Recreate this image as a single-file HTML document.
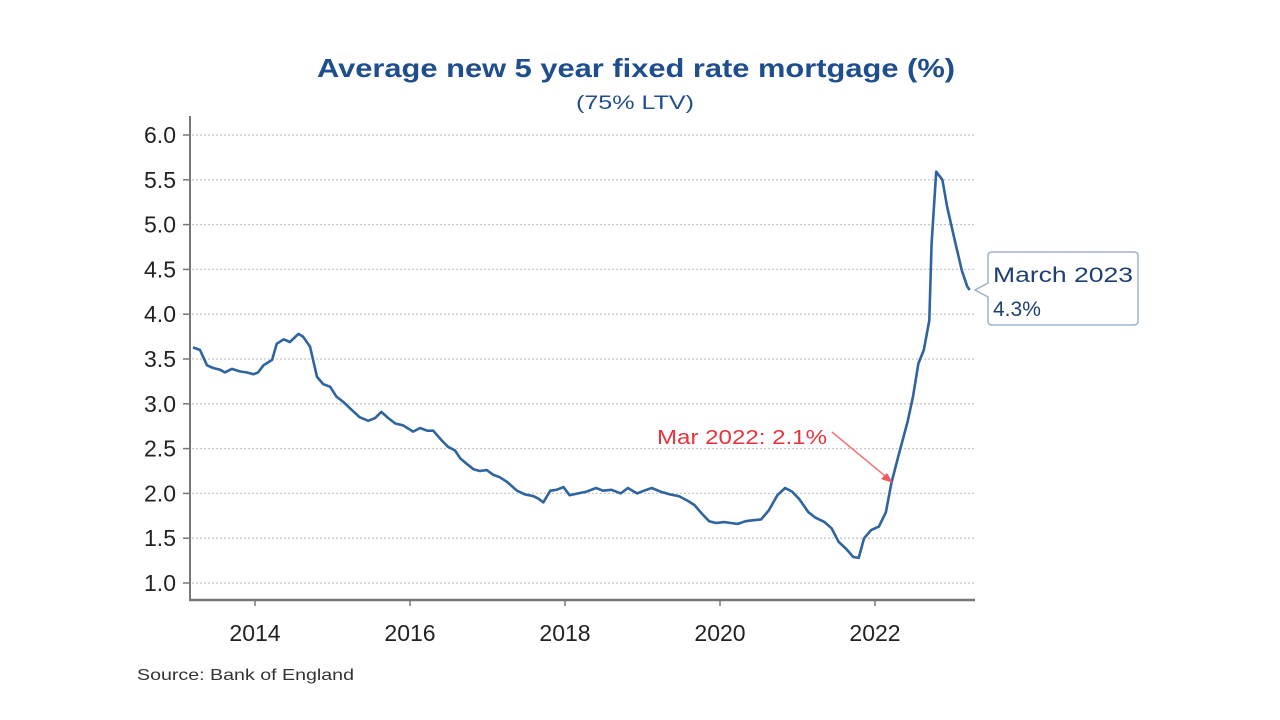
<!DOCTYPE html>
<html><head><meta charset="utf-8"><style>
html,body{margin:0;padding:0;background:#fff;width:1280px;height:720px;overflow:hidden}
svg{display:block;font-family:"Liberation Sans",sans-serif}
</style></head><body>
<svg id="chart" width="1280" height="720" viewBox="0 0 1280 720">
<text x="636" y="77" text-anchor="middle" font-size="26" font-weight="bold" fill="#1f4e8f" textLength="638" lengthAdjust="spacingAndGlyphs">Average new 5 year fixed rate mortgage (%)</text>
<text x="635" y="109" text-anchor="middle" font-size="19" fill="#1f4e8f" textLength="118" lengthAdjust="spacingAndGlyphs">(75% LTV)</text>
<g id="grid"></g>
<g id="yaxis"></g>
<g id="xaxis"></g>
<path id="line" fill="none" stroke="#2e64a0" stroke-width="2.6" stroke-linejoin="round"/>
<g>
<text x="657" y="444" font-size="20" fill="#e8323c" textLength="170" lengthAdjust="spacingAndGlyphs">Mar 2022: 2.1%</text>
<line id="arrow" x1="832" y1="432" x2="890" y2="480" stroke="#ef7a7a" stroke-width="1.6"/>
<path id="arrowhead" d="M893,483 L881,479 L887,473 Z" fill="#ef5a5a"/>
</g>
<g>
<path d="M992,252 L1134,252 Q1138,252 1138,256 L1138,321 Q1138,325 1134,325 L992,325 Q988,325 988,321 L988,297 L975,290 L988,283 L988,256 Q988,252 992,252 Z" fill="#fff" stroke="#9fb3cc" stroke-width="1.5"/>
<text x="993" y="282" font-size="21" fill="#1f3f73" textLength="140" lengthAdjust="spacingAndGlyphs">March 2023</text>
<text x="993" y="316" font-size="21" fill="#1f3f73">4.3%</text>
</g>
<text x="137" y="680" font-size="16" fill="#333" textLength="217" lengthAdjust="spacingAndGlyphs">Source: Bank of England</text>
</svg>
<script>
const yTicks=[1.0,1.5,2.0,2.5,3.0,3.5,4.0,4.5,5.0,5.5,6.0];
const xTickYears=[2014,2016,2018,2020,2022];
const years=[2013.20,2013.29,2013.38,2013.46,2013.55,2013.61,2013.70,2013.81,2013.89,2013.98,2014.04,2014.11,2014.22,2014.28,2014.37,2014.45,2014.56,2014.62,2014.71,2014.80,2014.88,2014.97,2015.05,2015.14,2015.25,2015.35,2015.46,2015.55,2015.63,2015.72,2015.81,2015.91,2016.04,2016.13,2016.22,2016.30,2016.41,2016.49,2016.58,2016.65,2016.73,2016.82,2016.90,2016.99,2017.07,2017.16,2017.25,2017.38,2017.48,2017.59,2017.66,2017.72,2017.81,2017.89,2017.98,2018.06,2018.17,2018.28,2018.40,2018.49,2018.60,2018.72,2018.81,2018.93,2019.02,2019.12,2019.23,2019.35,2019.47,2019.58,2019.67,2019.77,2019.86,2019.95,2020.05,2020.14,2020.23,2020.33,2020.42,2020.53,2020.63,2020.74,2020.84,2020.93,2021.02,2021.14,2021.23,2021.35,2021.44,2021.53,2021.63,2021.72,2021.79,2021.86,2021.95,2022.05,2022.14,2022.21,2022.30,2022.42,2022.49,2022.56,2022.63,2022.70,2022.73,2022.79,2022.87,2022.93,2023.02,2023.12,2023.19,2023.22];
const rates=[3.63,3.60,3.43,3.40,3.38,3.35,3.39,3.36,3.35,3.33,3.35,3.43,3.49,3.67,3.72,3.69,3.78,3.75,3.64,3.30,3.22,3.19,3.08,3.02,2.93,2.85,2.81,2.84,2.91,2.84,2.78,2.76,2.69,2.73,2.70,2.70,2.59,2.52,2.48,2.39,2.33,2.27,2.25,2.26,2.21,2.18,2.13,2.03,1.99,1.97,1.94,1.90,2.03,2.04,2.07,1.98,2.00,2.02,2.06,2.03,2.04,2.00,2.06,2.00,2.03,2.06,2.02,1.99,1.97,1.92,1.87,1.77,1.69,1.67,1.68,1.67,1.66,1.69,1.70,1.71,1.81,1.98,2.06,2.02,1.94,1.79,1.73,1.68,1.61,1.46,1.38,1.29,1.28,1.50,1.59,1.63,1.79,2.11,2.41,2.80,3.08,3.45,3.60,3.93,4.79,5.59,5.50,5.20,4.86,4.49,4.31,4.27];
const X0=190,X1=975,YB=600;
function xs(y){return 255+(y-2014)*77.5;}
function ys(v){return 583-(v-1)*89.6;}
const NS='http://www.w3.org/2000/svg';
function mk(tag,attrs,parent){const e=document.createElementNS(NS,tag);for(const k in attrs)e.setAttribute(k,attrs[k]);parent.appendChild(e);return e;}
const grid=document.getElementById('grid'),ya=document.getElementById('yaxis'),xa=document.getElementById('xaxis');
yTicks.forEach(v=>{
 const g=mk('line',{x1:X0+2,x2:X1,y1:ys(v),y2:ys(v),stroke:'#c8c8c8','stroke-width':1.3,'stroke-dasharray':'2 2'},grid);
 
 
 const t=mk('line',{x1:X0-7,x2:X0,y1:ys(v),y2:ys(v),stroke:'#777','stroke-width':1.5},ya);
 
 
 const l=mk('text',{x:176,y:ys(v)+8,'text-anchor':'end','font-size':23,fill:'#222'},ya);
 
 
 l.textContent=v.toFixed(1);
});
mk('line',{x1:X0,x2:X0,y1:116,y2:YB+1,stroke:'#777','stroke-width':2},ya);
mk('line',{x1:X0-1,x2:X1,y1:YB,y2:YB,stroke:'#777','stroke-width':2.5},xa);
xTickYears.forEach(yr=>{
 const t=mk('line',{x1:xs(yr),x2:xs(yr),y1:YB,y2:YB+6,stroke:'#777','stroke-width':1.5},xa);
 
 
 const l=mk('text',{x:xs(yr),y:641,'text-anchor':'middle','font-size':23,fill:'#222'},xa);
 
 
 l.textContent=yr;
});
document.getElementById('line').setAttribute('d',years.map((y,i)=>(i?'L':'M')+xs(y).toFixed(1)+','+ys(rates[i]).toFixed(1)).join(' '));
</script>
</body></html>
